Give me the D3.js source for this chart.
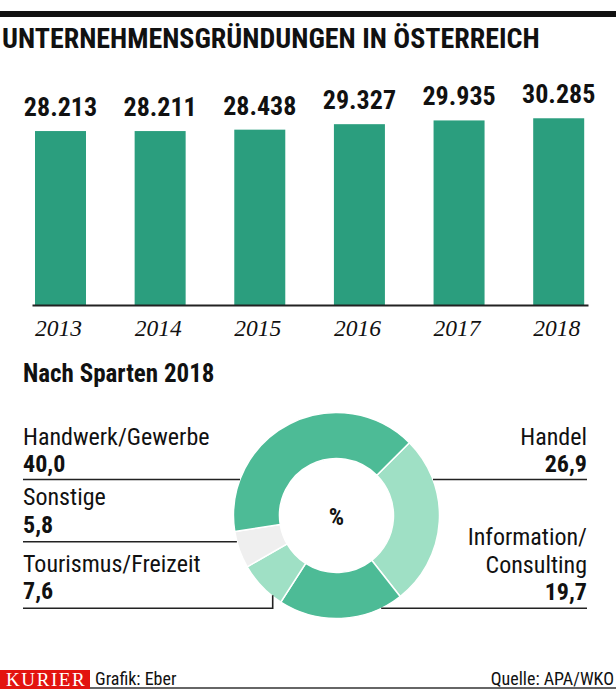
<!DOCTYPE html>
<html>
<head>
<meta charset="utf-8">
<script src="https://cdn.jsdelivr.net/npm/d3@7/dist/d3.min.js"></script>
<style>
  html, body { margin: 0; padding: 0; background: #ffffff; }
  svg { display: block; }
</style>
</head>
<body>
<script>
// ---------- data ----------
const years = ["2013", "2014", "2015", "2016", "2017", "2018"];
const foundings = [28213, 28211, 28438, 29327, 29935, 30285];
const foundingLabels = ["28.213", "28.211", "28.438", "29.327", "29.935", "30.285"];

const sectors = ["Handel", "Information/Consulting", "Tourismus/Freizeit", "Sonstige", "Handwerk/Gewerbe"];
const sectorShares = [26.9, 19.7, 7.6, 5.8, 40.0];
const sectorShareLabels = ["26,9", "19,7", "7,6", "5,8", "40,0"];

const title = "UNTERNEHMENSGRÜNDUNGEN IN ÖSTERREICH";
const subtitle = "Nach Sparten 2018";
const credit = "Grafik: Eber";
const source = "Quelle: APA/WKO";
const brand = "KURIER";

// ---------- font detection ----------
function hasFont(name) {
  const c = document.createElement("canvas").getContext("2d");
  const s = "Handwerk/Gewerbe 0123456789 WMiil";
  c.font = "40px monospace"; const a = c.measureText(s).width;
  c.font = `40px "${name}", monospace`; const b = c.measureText(s).width;
  c.font = "40px serif"; const a2 = c.measureText(s).width;
  c.font = `40px "${name}", serif`; const b2 = c.measureText(s).width;
  return a !== b || a2 !== b2;
}
const condCandidates = ["Liberation Sans Narrow", "Roboto Condensed", "DejaVu Sans Condensed", "Open Sans Condensed"];
const condFont = condCandidates.find(hasFont);
const SANS = condFont ? `"${condFont}", "Roboto", sans-serif` : `"Roboto", sans-serif`;
const SERIF = `"Liberation Serif", "DejaVu Serif", serif`;

// ---------- svg ----------
const W = 616, H = 689;
const svg = d3.select("body").append("svg").attr("width", W).attr("height", H);

// top rule
svg.append("rect").attr("x", 0).attr("y", 11).attr("width", W).attr("height", 6).attr("fill", "#111");

svg.append("text").attr("x", 2).attr("y", 47.5)
  .attr("font-family", SANS).attr("font-weight", 700).attr("font-size", 28)
  .attr("fill", "#111").text(title);

// ---------- bar chart ----------
const xB = d3.scalePoint().domain(years).range([60.5, 558.7]);
const yB = d3.scaleLinear().domain([0, 32000]).range([305, 107.7]);
const barW = 51;
const barColor = "#2b9e7e";

const bars = svg.append("g");
bars.selectAll("rect").data(years).join("rect")
  .attr("x", d => xB(d) - barW / 2)
  .attr("y", (d, i) => yB(foundings[i]))
  .attr("width", barW)
  .attr("height", (d, i) => yB(0) - yB(foundings[i]))
  .attr("fill", barColor);

bars.selectAll("text.val").data(years).join("text").attr("class", "val")
  .attr("x", d => xB(d))
  .attr("y", (d, i) => yB(foundings[i]) - 15)
  .attr("text-anchor", "middle")
  .attr("font-family", SANS).attr("font-weight", 700).attr("font-size", 26)
  .attr("fill", "#111")
  .text((d, i) => foundingLabels[i]);

// axis
const axisG = svg.append("g").attr("transform", `translate(0,${yB(0)})`);
const xAxisScale = d3.scaleLinear().domain([0, 1]).range([32, 588]);
axisG.call(d3.axisBottom(xAxisScale).tickValues([]).tickSizeOuter(0));
axisG.select(".domain").attr("stroke", "#222").attr("stroke-width", 2);

svg.append("g").selectAll("text").data(years).join("text")
  .attr("x", d => xB(d) - 2)
  .attr("y", 335.5)
  .attr("text-anchor", "middle")
  .attr("font-family", SERIF).attr("font-style", "italic").attr("font-size", 23.5)
  .attr("fill", "#111").text(d => d);

// ---------- donut ----------
svg.append("text").attr("x", 23).attr("y", 382)
  .attr("font-family", SANS).attr("font-weight", 700).attr("font-size", 25)
  .attr("fill", "#111").text(subtitle);

const cx = 336.5, cy = 515.5, rOut = 103, rIn = 57;
const sectorColors = ["#9fe0c5", "#4dbb96", "#9fe0c5", "#efefef", "#4dbb96"];
const pie = d3.pie().sort(null).value(d => d)
  .startAngle(Math.PI / 4).endAngle(Math.PI / 4 + 2 * Math.PI);
const arc = d3.arc().innerRadius(rIn).outerRadius(rOut);
const donut = svg.append("g").attr("transform", `translate(${cx},${cy})`);
donut.selectAll("path").data(pie(sectorShares)).join("path")
  .attr("d", arc)
  .attr("fill", (d, i) => sectorColors[i])
  .attr("stroke", "#ffffff").attr("stroke-width", 1.5);

donut.append("text").attr("x", 0).attr("y", 9)
  .attr("text-anchor", "middle")
  .attr("font-family", SANS).attr("font-weight", 700).attr("font-size", 24)
  .attr("fill", "#111").text("%");

// leader lines
const lineColor = "#222";
const leaders = svg.append("g").attr("stroke", lineColor).attr("stroke-width", 1.6).attr("fill", "none");
const edgeX = (y, side) => cx + side * Math.sqrt(rOut * rOut - (y - cy) * (y - cy));
leaders.append("line").attr("x1", 23).attr("x2", edgeX(479.5, -1)).attr("y1", 479.5).attr("y2", 479.5);
leaders.append("line").attr("x1", 23).attr("x2", edgeX(541.7, -1)).attr("y1", 541.7).attr("y2", 541.7);
leaders.append("path").attr("d", `M23,608.3H272.7V${cy + Math.sqrt(rOut * rOut - (272.7 - cx) * (272.7 - cx)) - 1}`);
leaders.append("line").attr("x1", edgeX(479.5, 1)).attr("x2", 587).attr("y1", 479.5).attr("y2", 479.5);
leaders.append("line").attr("x1", edgeX(608.3, 1)).attr("x2", 587).attr("y1", 608.3).attr("y2", 608.3);

// labels
const lab = svg.append("g").attr("font-family", SANS).attr("fill", "#111");
function label(x, ys, lines, valueLabel, anchor) {
  lines.forEach((t, k) => {
    lab.append("text").attr("x", x).attr("y", ys[k]).attr("text-anchor", anchor)
      .attr("font-size", 24).text(t);
  });
  lab.append("text").attr("x", x).attr("y", ys[lines.length]).attr("text-anchor", anchor)
    .attr("font-size", 24).attr("font-weight", 700).text(valueLabel);
}
// left side
label(23, [445, 472], [sectors[4]], sectorShareLabels[4], "start");
label(23, [505, 533], [sectors[3]], sectorShareLabels[3], "start");
label(23, [571.5, 599], [sectors[2]], sectorShareLabels[2], "start");
// right side
label(587, [445, 472], [sectors[0]], sectorShareLabels[0], "end");
const infoParts = sectors[1].split("/");
label(587, [545, 573, 599.5], [infoParts[0] + "/", infoParts[1]], sectorShareLabels[1], "end");

// ---------- footer ----------
svg.append("rect").attr("x", 0).attr("y", 670).attr("width", 90).attr("height", 19).attr("fill", "#e3140f");
svg.append("text").attr("x", 6).attr("y", 685.5)
  .attr("font-family", SERIF).attr("font-size", 19).attr("letter-spacing", 1.6)
  .attr("fill", "#ffffff").text(brand);
svg.append("line").attr("x1", 90).attr("x2", W).attr("y1", 688).attr("y2", 688)
  .attr("stroke", "#333").attr("stroke-width", 1.5);
svg.append("text").attr("x", 95).attr("y", 685)
  .attr("font-family", SANS).attr("font-size", 18).attr("fill", "#111").text(credit);
svg.append("text").attr("x", 614).attr("y", 685).attr("text-anchor", "end")
  .attr("font-family", SANS).attr("font-size", 18).attr("fill", "#111").text(source);
</script>
</body>
</html>
